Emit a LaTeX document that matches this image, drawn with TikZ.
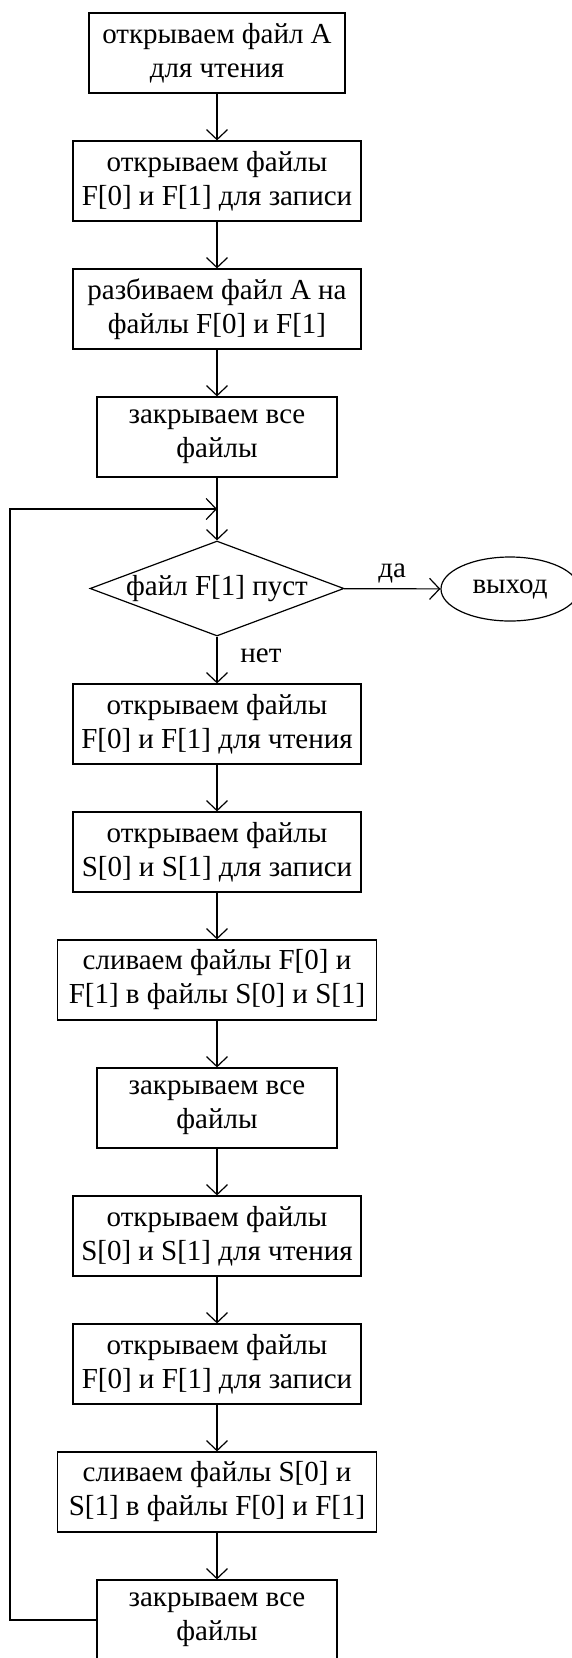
\documentclass[tikz,border=0pt]{standalone}
\usepackage{fontspec}
\setmainfont{Liberation Serif}
\usetikzlibrary{arrows.meta,shapes.geometric}

\begin{document}
\begin{tikzpicture}[x=1pt,y=-1pt,
  every node/.style={font=\fontsize{29}{34}\selectfont},
  procbox/.style={draw,line width=1.2pt,rectangle,align=center,inner sep=0pt,
                  minimum height=80pt,minimum width=#1},
  procbox/.default=288pt,
  decision/.style={draw,line width=1.2pt,diamond,aspect=2.67,inner sep=0pt,
                   minimum width=254pt,minimum height=95pt},
  terminal/.style={draw,line width=1.2pt,ellipse,inner sep=0pt,
                   minimum width=138pt,minimum height=64pt},
  flow/.style={line width=1.2pt,-{Straight Barb[length=10pt,width=21pt]}},
  plain/.style={line width=1.2pt}]

\useasboundingbox (0,0) rectangle (571,1658);

% main column of actions
\node[procbox=256pt] (openA)   at (217,53)   {открываем файл А\\для чтения};
\node[procbox]       (openFw)  at (217,181)  {открываем файлы\\F[0] и F[1] для записи};
\node[procbox]       (split)   at (217,309)  {разбиваем файл А на\\файлы F[0] и F[1]};
\node[procbox=240pt] (close1)  at (217,437)  {закрываем все\\файлы};
\coordinate (join) at (217,509);
\node[decision]      (test)    at (217,588.5) {файл F[1] пуст};
\node[terminal]      (exit)    at (510,589)  {выход};
\node[procbox]       (openFr)  at (217,724)  {открываем файлы\\F[0] и F[1] для чтения};
\node[procbox]       (openSw)  at (217,852)  {открываем файлы\\S[0] и S[1] для записи};
\node[procbox=319pt] (mergeFS) at (217,980)  {сливаем файлы F[0] и\\F[1] в файлы S[0] и S[1]};
\node[procbox=240pt] (close2)  at (217,1108) {закрываем все\\файлы};
\node[procbox]       (openSr)  at (217,1236) {открываем файлы\\S[0] и S[1] для чтения};
\node[procbox]       (openFw2) at (217,1364) {открываем файлы\\F[0] и F[1] для записи};
\node[procbox=319pt] (mergeSF) at (217,1492) {сливаем файлы S[0] и\\S[1] в файлы F[0] и F[1]};
\node[procbox=240pt] (close3)  at (217,1620) {закрываем все\\файлы};

% loop-back corners
\coordinate (loopB) at (10,1620);
\coordinate (loopT) at (10,509);

% connectors
\draw[flow] (openA) -- (openFw);
\draw[flow] (openFw) -- (split);
\draw[flow] (split) -- (close1);
\draw[plain] (close1) -- (join);
\draw[flow] (join) -- (test);
\draw[flow] (test) -- node[above=2pt] {да} (exit);
\draw[flow] (test) -- (openFr);
\node at (261,656) {нет};
\draw[flow] (openFr) -- (openSw);
\draw[flow] (openSw) -- (mergeFS);
\draw[flow] (mergeFS) -- (close2);
\draw[flow] (close2) -- (openSr);
\draw[flow] (openSr) -- (openFw2);
\draw[flow] (openFw2) -- (mergeSF);
\draw[flow] (mergeSF) -- (close3);
\draw[flow] (close3.west) -- (loopB) -- (loopT) -- (join);

\end{tikzpicture}
\end{document}
